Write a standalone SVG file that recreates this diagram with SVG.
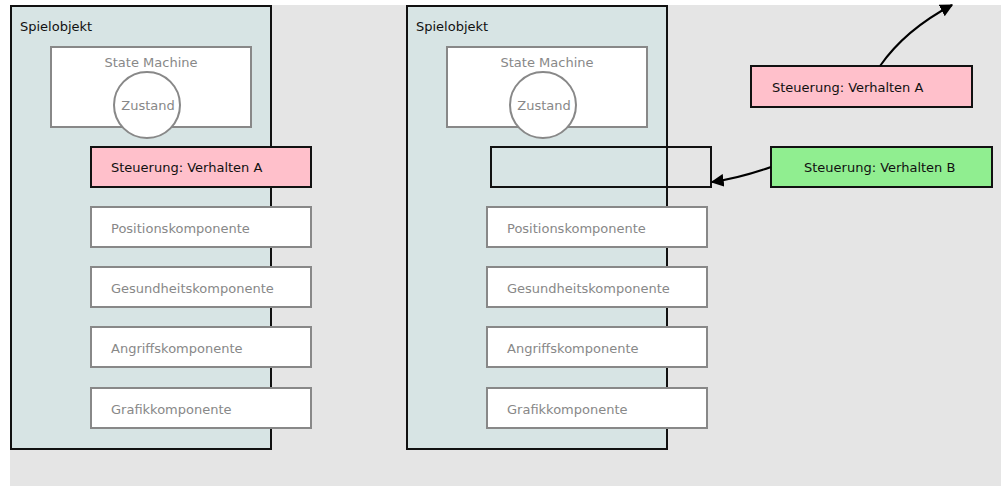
<svg xmlns="http://www.w3.org/2000/svg" width="1001" height="486" viewBox="0 0 1001 486">
<style>
text{font-family:"DejaVu Sans",sans-serif;font-size:13px}
.obj{fill:#d7e4e4;stroke:#111;stroke-width:2}
.sm{fill:#fff;stroke:#888;stroke-width:2}
.comp{fill:#fff;stroke:#888;stroke-width:2}
.g{fill:#888}
.k{fill:#111}
.pink{fill:#ffc0cb;stroke:#111;stroke-width:2}
.green{fill:#90ee90;stroke:#111;stroke-width:2}
.empty{fill:none;stroke:#111;stroke-width:2}
.conn{fill:none;stroke:#000;stroke-width:2}
</style>
<defs>
<marker id="ah" viewBox="0 0 10 10" refX="9" refY="5" markerWidth="6.5" markerHeight="6.5" orient="auto" markerUnits="strokeWidth">
<path d="M0,0 L10,5 L0,10 z" fill="#000"/>
</marker>
</defs>
<rect x="10" y="5" width="991" height="481" fill="#e5e5e5"/>
<g id="obj-left">
<rect class="obj" x="11" y="6" width="260" height="443"/>
<text class="k" x="20" y="31">Spielobjekt</text>
</g>
<g id="sm-left">
<rect class="sm" x="51" y="47" width="200" height="80"/>
<text class="g" x="151" y="67" text-anchor="middle">State Machine</text>
<circle class="sm" cx="147" cy="105" r="33"/>
<text class="g" x="148" y="109.5" text-anchor="middle">Zustand</text>
</g>
<g id="ctrl-left">
<rect class="pink" x="91" y="147" width="220" height="40"/>
<text class="k" x="111" y="172">Steuerung: Verhalten A</text>
</g>
<g id="pos-left"><rect class="comp" x="91" y="207" width="220" height="40"/><text class="g" x="111" y="233">Positionskomponente</text></g>
<g id="ges-left"><rect class="comp" x="91" y="267" width="220" height="40"/><text class="g" x="111" y="293">Gesundheitskomponente</text></g>
<g id="ang-left"><rect class="comp" x="91" y="327" width="220" height="40"/><text class="g" x="111" y="353">Angriffskomponente</text></g>
<g id="gra-left"><rect class="comp" x="91" y="388" width="220" height="40"/><text class="g" x="111" y="414">Grafikkomponente</text></g>

<g id="obj-right">
<rect class="obj" x="407" y="6" width="260" height="443"/>
<text class="k" x="416" y="31">Spielobjekt</text>
</g>
<g id="sm-right">
<rect class="sm" x="447" y="47" width="200" height="80"/>
<text class="g" x="547" y="67" text-anchor="middle">State Machine</text>
<circle class="sm" cx="543" cy="105" r="33"/>
<text class="g" x="544" y="109.5" text-anchor="middle">Zustand</text>
</g>
<g id="ctrl-slot">
<rect class="empty" x="491" y="147" width="220" height="40"/>
</g>
<g id="pos-right"><rect class="comp" x="487" y="207" width="220" height="40"/><text class="g" x="507" y="233">Positionskomponente</text></g>
<g id="ges-right"><rect class="comp" x="487" y="267" width="220" height="40"/><text class="g" x="507" y="293">Gesundheitskomponente</text></g>
<g id="ang-right"><rect class="comp" x="487" y="327" width="220" height="40"/><text class="g" x="507" y="353">Angriffskomponente</text></g>
<g id="gra-right"><rect class="comp" x="487" y="388" width="220" height="40"/><text class="g" x="507" y="414">Grafikkomponente</text></g>

<g id="ctrl-a">
<rect class="pink" x="751" y="66" width="221" height="41"/>
<text class="k" x="772" y="92">Steuerung: Verhalten A</text>
</g>
<g id="ctrl-b">
<rect class="green" x="771" y="147" width="221" height="40"/>
<text class="k" x="804" y="172">Steuerung: Verhalten B</text>
</g>
<g id="connectors">
<path class="conn" d="M880,66 Q905,30 952,5" marker-end="url(#ah)"/>
<path class="conn" d="M771,167 Q740,178 712,182" marker-end="url(#ah)"/>
</g>
</svg>
